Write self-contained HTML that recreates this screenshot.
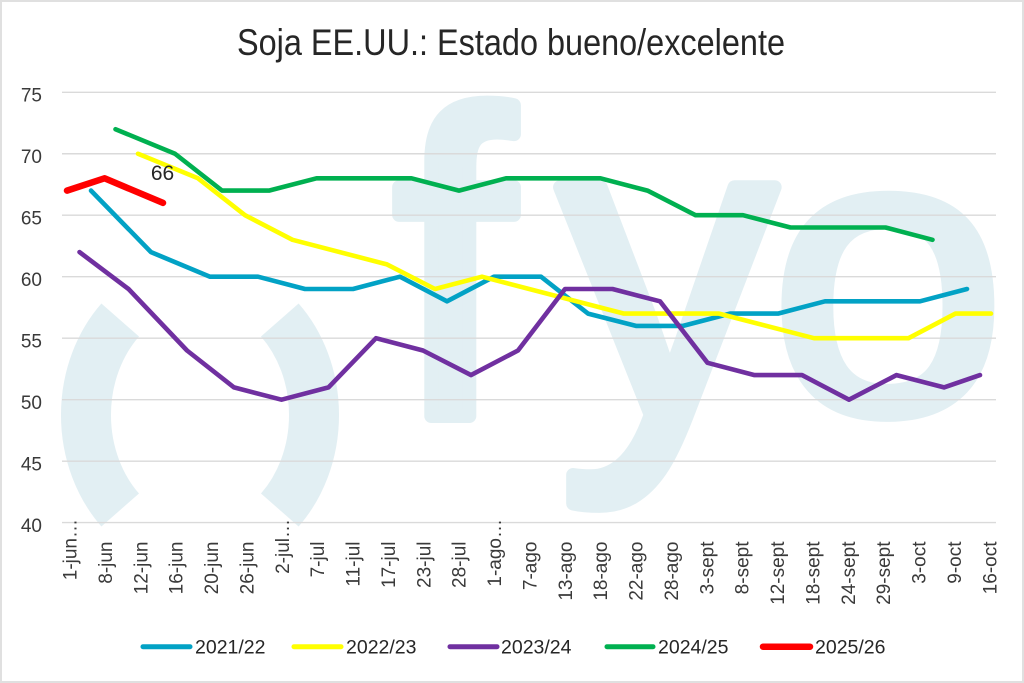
<!DOCTYPE html>
<html>
<head>
<meta charset="utf-8">
<style>
  html, body { margin: 0; padding: 0; background: #ffffff; }
  svg { display: block; }
  text { font-family: "Liberation Sans", Arial, sans-serif; }
</style>
</head>
<body>
<svg width="1024" height="683" viewBox="0 0 1024 683" xmlns="http://www.w3.org/2000/svg">
  <rect x="0" y="0" width="1024" height="683" fill="#ffffff"/>
  <rect x="1" y="1" width="1022" height="681" fill="none" stroke="#e0e0e0" stroke-width="2"/>

  <!-- Title -->
  <text x="237" y="55" font-size="37" fill="#262626" textLength="548" lengthAdjust="spacingAndGlyphs">Soja EE.UU.: Estado bueno/excelente</text>

  <!-- Watermark -->
  <g fill="none" stroke="#e2eff3" stroke-width="50">
    <path d="M120.2,320 A114,133 0 0 0 120.2,510"/>
    <path d="M279.8,320 A114,133 0 0 1 279.8,510"/>
  </g>
  <g font-size="433" fill="#e2eff3" stroke="#e2eff3" stroke-width="14" stroke-linejoin="round">
    <text x="393" y="416">f</text>
    <text x="559" y="416">y</text>
  </g>
  <text transform="translate(770,412) scale(1.06,1)" x="0" y="0" font-size="400" fill="#e2eff3" stroke="#e2eff3" stroke-width="12" stroke-linejoin="round">o</text>

  <!-- Gridlines -->
  <g stroke="#dadada" stroke-width="1.4">
    <line x1="62" y1="92.3" x2="996" y2="92.3"/>
    <line x1="62" y1="153.75" x2="996" y2="153.75"/>
    <line x1="62" y1="215.2" x2="996" y2="215.2"/>
    <line x1="62" y1="276.7" x2="996" y2="276.7"/>
    <line x1="62" y1="338.2" x2="996" y2="338.2"/>
    <line x1="62" y1="399.7" x2="996" y2="399.7"/>
    <line x1="62" y1="461.2" x2="996" y2="461.2"/>
    <line x1="62" y1="522.6" x2="996" y2="522.6"/>
  </g>

  <!-- Y labels -->
  <g font-size="19" fill="#3a3a3a" text-anchor="end">
    <text x="42" y="101.5">75</text>
    <text x="42" y="163">70</text>
    <text x="42" y="224.5">65</text>
    <text x="42" y="286">60</text>
    <text x="42" y="347.5">55</text>
    <text x="42" y="409">50</text>
    <text x="42" y="470.5">45</text>
    <text x="42" y="532">40</text>
  </g>

  <!-- X labels -->
  <g font-size="19" fill="#3a3a3a" text-anchor="end">
    <text transform="translate(76.5,519) rotate(-90)">1-jun…</text>
    <text transform="translate(111.9,541.5) rotate(-90)">8-jun</text>
    <text transform="translate(147.3,541.5) rotate(-90)">12-jun</text>
    <text transform="translate(182.6,541.5) rotate(-90)">16-jun</text>
    <text transform="translate(218.0,541.5) rotate(-90)">20-jun</text>
    <text transform="translate(253.4,541.5) rotate(-90)">26-jun</text>
    <text transform="translate(288.8,519) rotate(-90)">2-jul…</text>
    <text transform="translate(324.2,541.5) rotate(-90)">7-jul</text>
    <text transform="translate(359.5,541.5) rotate(-90)">11-jul</text>
    <text transform="translate(394.9,541.5) rotate(-90)">17-jul</text>
    <text transform="translate(430.3,541.5) rotate(-90)">23-jul</text>
    <text transform="translate(465.7,541.5) rotate(-90)">28-jul</text>
    <text transform="translate(501.1,519) rotate(-90)">1-ago…</text>
    <text transform="translate(536.4,541.5) rotate(-90)">7-ago</text>
    <text transform="translate(571.8,541.5) rotate(-90)">13-ago</text>
    <text transform="translate(607.2,541.5) rotate(-90)">18-ago</text>
    <text transform="translate(642.6,541.5) rotate(-90)">22-ago</text>
    <text transform="translate(678.0,541.5) rotate(-90)">28-ago</text>
    <text transform="translate(713.3,541.5) rotate(-90)">3-sept</text>
    <text transform="translate(748.7,541.5) rotate(-90)">8-sept</text>
    <text transform="translate(784.1,541.5) rotate(-90)">12-sept</text>
    <text transform="translate(819.5,541.5) rotate(-90)">18-sept</text>
    <text transform="translate(854.9,541.5) rotate(-90)">24-sept</text>
    <text transform="translate(890.2,541.5) rotate(-90)">29-sept</text>
    <text transform="translate(925.6,541.5) rotate(-90)">3-oct</text>
    <text transform="translate(961.0,541.5) rotate(-90)">9-oct</text>
    <text transform="translate(996.4,541.5) rotate(-90)">16-oct</text>
  </g>

  <!-- Series -->
  <g fill="none" stroke-linejoin="round" stroke-linecap="round">
    <!-- 2021/22 blue -->
    <polyline stroke="#02a2c5" stroke-width="4.6" points="91,190.6 151,252.1 210,276.7 258,276.7 305,289 353,289 400,276.7 447,301.3 494,276.7 541,276.7 588,313.6 636,325.9 683,325.9 730,313.6 778,313.6 825,301.3 872,301.3 920,301.3 967,289"/>
    <!-- 2022/23 yellow -->
    <polyline stroke="#ffff00" stroke-width="4.6" points="138,153.75 198,178.3 245,215.2 292.5,239.8 387,264.4 435,289 482,276.7 624,313.6 719,313.6 814,338.2 908.5,338.2 955.5,313.6 991,313.6"/>
    <!-- 2023/24 purple -->
    <polyline stroke="#7030a0" stroke-width="4.6" points="79.5,252.1 128.5,289 187,350.5 234,387.4 281.5,399.7 328.5,387.4 376,338.2 423,350.5 471,375.1 518,350.5 565,289 612.5,289 660,301.3 707.5,362.8 754.5,375.1 802,375.1 849,399.7 896.5,375.1 944,387.4 980,375.1"/>
    <!-- 2024/25 green -->
    <polyline stroke="#00b050" stroke-width="4.6" points="115.5,129.2 175,153.75 222,190.6 269,190.6 316.5,178.3 411.5,178.3 459,190.6 506,178.3 600.5,178.3 647.5,190.6 695.5,215.2 743,215.2 790.5,227.5 885.5,227.5 932.5,239.8"/>
    <!-- 2025/26 red -->
    <polyline stroke="#ff0000" stroke-width="6.5" points="67,190.6 104.5,178.3 163,202.9"/>
  </g>

  <!-- Data label -->
  <text x="162.5" y="180" font-size="21" fill="#262626" text-anchor="middle">66</text>

  <!-- Legend -->
  <g stroke-linecap="round" fill="none">
    <line x1="143" y1="646.7" x2="190" y2="646.7" stroke="#02a2c5" stroke-width="5"/>
    <line x1="294" y1="646.7" x2="341" y2="646.7" stroke="#ffff00" stroke-width="5"/>
    <line x1="450" y1="646.7" x2="497" y2="646.7" stroke="#7030a0" stroke-width="5"/>
    <line x1="607" y1="646.7" x2="653" y2="646.7" stroke="#00b050" stroke-width="5"/>
    <line x1="763" y1="646.7" x2="810" y2="646.7" stroke="#ff0000" stroke-width="6.5"/>
  </g>
  <g font-size="19.5" fill="#262626">
    <text x="195" y="653.5">2021/22</text>
    <text x="346" y="653.5">2022/23</text>
    <text x="501" y="653.5">2023/24</text>
    <text x="658" y="653.5">2024/25</text>
    <text x="815" y="653.5">2025/26</text>
  </g>
</svg>
</body>
</html>
